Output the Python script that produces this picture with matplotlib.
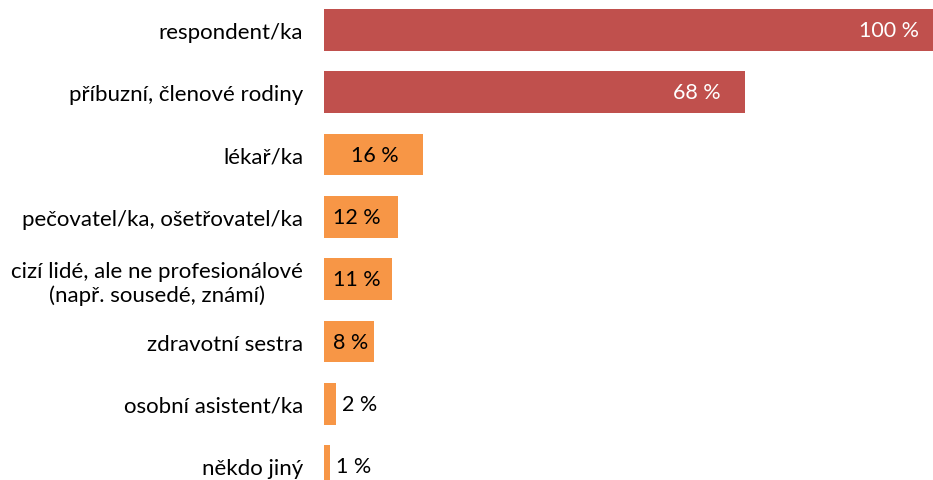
import matplotlib
matplotlib.use('Agg')
import matplotlib.pyplot as plt

# data
categories = ['respondent/ka', 'příbuzní, členové rodiny', 'lékař/ka',
              'pečovatel/ka, ošetřovatel/ka',
              'cizí lidé, ale ne profesionálové\n(např. sousedé, známí)',
              'zdravotní sestra', 'osobní asistent/ka', 'někdo jiný']
values = [100, 68, 16, 12, 11, 8, 2, 1]
labels = ['100 %', '68 %', '16 %', '12 %', '11 %', '8 %', '2 %', '1 %']

red = '#C0504D'
orange = '#F79646'
colors = [red, red] + [orange] * 6

plt.rcParams['font.family'] = ['Lato', 'DejaVu Sans']

W, H = 933, 481
fig = plt.figure(figsize=(W / 100, H / 100), dpi=100)
ax = fig.add_axes((324 / W, 0, 619 / W, 1))

ypos = list(range(len(categories)))
ax.barh(ypos, values, height=0.67, color=colors)
ax.set_xlim(0, 100)
ax.set_ylim(7.223, -0.498)

vfs = 15.5
for y, v, lab in zip(ypos, values, labels):
    if v >= 16:
        col = 'white' if v > 50 else 'black'
        ax.annotate(lab, (v, y), xytext=(-24, 0), textcoords='offset pixels',
                    ha='right', va='center', fontsize=vfs, color=col)
    elif v >= 5:
        # label would not fit at the bar end, Excel pushes it to the left
        ax.annotate(lab, (0, y), xytext=(9, 0), textcoords='offset pixels',
                    ha='left', va='center', fontsize=vfs, color='black')
    else:
        ax.annotate(lab, (v, y), xytext=(6, 0), textcoords='offset pixels',
                    ha='left', va='center', fontsize=vfs, color='black')

ax.set_yticks(ypos)
ax.set_yticklabels(categories, fontsize=16, multialignment='center')
ax.tick_params(axis='y', length=0, pad=15)
ax.set_xticks([])
for s in ax.spines.values():
    s.set_visible(False)

fig.savefig('out.png', dpi=100)
